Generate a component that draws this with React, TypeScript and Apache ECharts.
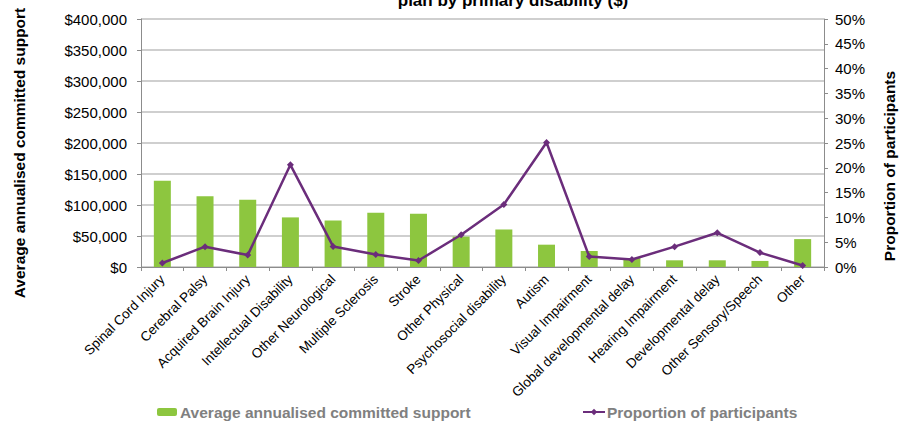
import React, { useEffect, useRef } from "react";
import * as echarts from "echarts";

const categories = [
  "Spinal Cord Injury",
  "Cerebral Palsy",
  "Acquired Brain Injury",
  "Intellectual Disability",
  "Other Neurological",
  "Multiple Sclerosis",
  "Stroke",
  "Other Physical",
  "Psychosocial disability",
  "Autism",
  "Visual Impairment",
  "Global developmental delay",
  "Hearing Impairment",
  "Developmental delay",
  "Other Sensory/Speech",
  "Other",
];

const avgSupport = [
  139000, 114000, 108500, 80000, 75000, 87500, 86000, 49000, 60500, 36000,
  25800, 14500, 10800, 10800, 9800, 45000,
];

const proportion = [
  0.8, 4.1, 2.4, 20.6, 4.15, 2.5, 1.3, 6.5, 12.6, 25.1, 2.1, 1.5, 4.1, 6.9,
  2.9, 0.3,
];

const barName = "Average annualised committed support";
const lineName = "Proportion of participants";
const titleText = "plan by primary disability ($)";

const FONT = "'Liberation Sans', Arial, sans-serif";

export default function App() {
  const ref = useRef<HTMLDivElement>(null);

  useEffect(() => {
    if (!ref.current) return;
    const chart = echarts.init(ref.current, null, { renderer: "svg" });
    chart.setOption({
      animation: false,
      backgroundColor: "#ffffff",
      textStyle: { fontFamily: FONT },
      grid: { left: 141, right: 81, top: 19, bottom: 159, containLabel: false },
      graphic: [
        {
          type: "text",
          x: 513,
          y: 0.5,
          style: {
            text: titleText,
            fontFamily: FONT,
            fontSize: 17,
            fontWeight: "bold",
            fill: "#000",
            align: "center",
            verticalAlign: "middle",
          },
        },
        {
          type: "text",
          x: 19,
          y: 153,
          rotation: Math.PI / 2,
          style: {
            text: barName,
            fontFamily: FONT,
            fontSize: 15.5,
            fontWeight: "bold",
            fill: "#000",
            align: "center",
            verticalAlign: "middle",
          },
        },
        {
          type: "text",
          x: 889,
          y: 166,
          rotation: Math.PI / 2,
          style: {
            text: lineName,
            fontFamily: FONT,
            fontSize: 15.5,
            fontWeight: "bold",
            fill: "#000",
            align: "center",
            verticalAlign: "middle",
          },
        },
      ],
      legend: [
        {
          data: [barName],
          left: 157,
          top: 404,
          itemWidth: 20,
          itemHeight: 8,
          itemGap: 0,
          padding: 0,
          textStyle: {
            fontFamily: FONT,
            fontSize: 15.5,
            fontWeight: "bold",
            color: "#808080",
            padding: [0, 0, 0, -2],
          },
        },
        {
          data: [lineName],
          left: 582,
          top: 404,
          itemWidth: 22,
          itemHeight: 8,
          itemGap: 0,
          padding: 0,
          textStyle: {
            fontFamily: FONT,
            fontSize: 15.5,
            fontWeight: "bold",
            color: "#808080",
            padding: [0, 0, 0, -3],
          },
        },
      ],
      xAxis: {
        type: "category",
        data: categories,
        axisLine: { lineStyle: { color: "#8c8c8c", width: 1 } },
        axisTick: { show: true, length: 4, lineStyle: { color: "#8c8c8c" } },
        axisLabel: {
          rotate: 45,
          interval: 0,
          margin: 10,
          fontFamily: FONT,
          fontSize: 13.5,
          color: "#000",
        },
      },
      yAxis: [
        {
          type: "value",
          min: 0,
          max: 400000,
          interval: 50000,
          axisLine: { show: true, lineStyle: { color: "#8c8c8c", width: 1 } },
          axisTick: { show: true, length: 4, lineStyle: { color: "#8c8c8c" } },
          axisLabel: {
            margin: 14,
            fontFamily: FONT,
            fontSize: 15,
            color: "#000",
            formatter: (v: number) => "$" + v.toLocaleString("en-US"),
          },
          splitLine: { show: true, lineStyle: { color: "#bfbfbf", width: 1.5 } },
        },
        {
          type: "value",
          min: 0,
          max: 50,
          interval: 5,
          position: "right",
          axisLine: { show: true, lineStyle: { color: "#8c8c8c", width: 1 } },
          axisTick: { show: true, length: 4, lineStyle: { color: "#8c8c8c" } },
          axisLabel: {
            margin: 11,
            fontFamily: FONT,
            fontSize: 15,
            color: "#000",
            formatter: (v: number) => v + "%",
          },
          splitLine: { show: false },
        },
      ],
      series: [
        {
          name: barName,
          type: "bar",
          data: avgSupport,
          yAxisIndex: 0,
          barWidth: 17,
          itemStyle: { color: "#8dc63f" },
        },
        {
          name: lineName,
          type: "line",
          data: proportion,
          yAxisIndex: 1,
          symbol: "diamond",
          symbolSize: 7,
          lineStyle: { color: "#6b2d7b", width: 2.5 },
          itemStyle: { color: "#6b2d7b" },
        },
      ],
    });
    return () => chart.dispose();
  }, []);

  return (
    <div
      ref={ref}
      style={{ position: "absolute", left: 0, top: 0, width: 905, height: 426 }}
    />
  );
}
